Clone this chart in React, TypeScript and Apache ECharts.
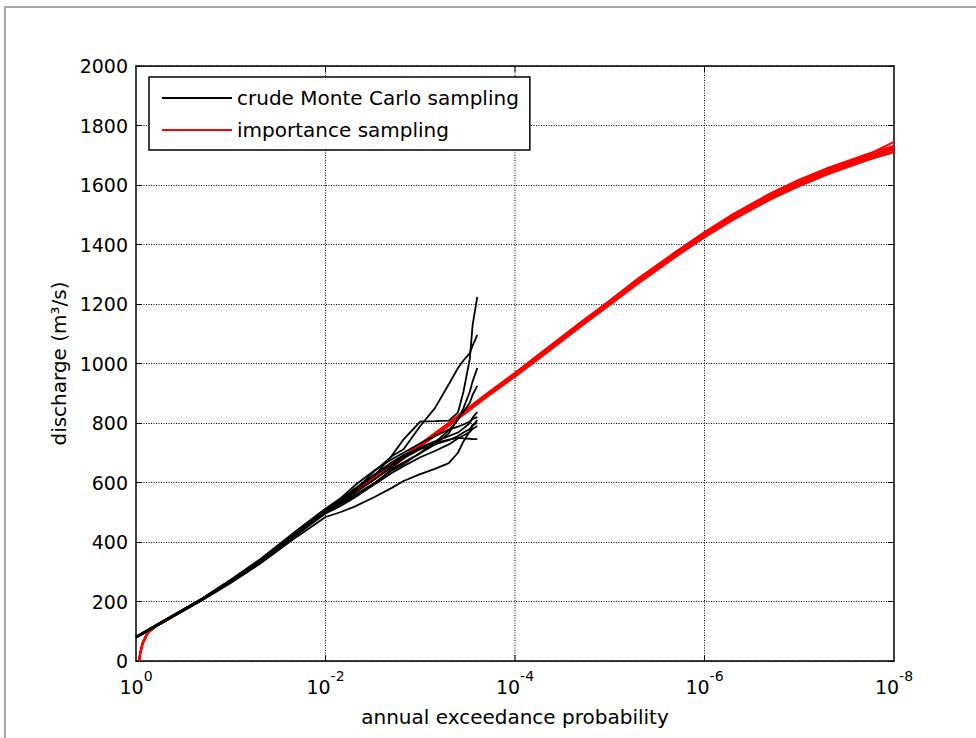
import React, { useEffect, useRef } from "react";
import * as echarts from "echarts";

const FONT = "DejaVu Sans";

// crude Monte Carlo sampling: shared exceedance probabilities
const mcProb = [1, 0.5, 0.2, 0.1, 0.05, 0.02, 0.01, 0.007, 0.005, 0.003, 0.002, 0.0015, 0.001, 0.0007, 0.0005, 0.0004, 0.00035, 0.0003, 0.00028, 0.00025];
const mcA = [80, 136, 210, 272, 338, 436, 510, 542, 575, 625, 690, 745, 805, 806, 808, 835, 905, 1015, 1130, 1224];
const mcB = [78, 134, 206, 268, 333, 428, 503, 533, 570, 640, 688, 712, 790, 850, 930, 985, 1010, 1035, 1060, 1096];
const mcC = [82, 138, 208, 270, 336, 432, 505, 530, 556, 600, 640, 662, 700, 735, 775, 810, 850, 905, 940, 985];
const mcD = [79, 135, 207, 269, 334, 430, 500, 526, 552, 598, 645, 668, 698, 728, 765, 815, 838, 868, 895, 925];
const mcE = [81, 137, 209, 271, 337, 434, 508, 540, 578, 626, 660, 688, 718, 738, 756, 768, 782, 800, 818, 837];
const mcF = [80, 135, 208, 270, 335, 430, 504, 532, 564, 612, 652, 682, 712, 728, 742, 756, 768, 780, 794, 800];
const mcG = [78, 133, 205, 266, 330, 425, 496, 520, 548, 595, 632, 655, 685, 706, 728, 748, 758, 770, 780, 790];
const mcH = [80, 136, 209, 271, 336, 433, 507, 538, 572, 628, 668, 692, 716, 732, 744, 750, 748, 747, 746, 746];
const mcI = [79, 133, 204, 262, 325, 418, 484, 500, 518, 552, 582, 605, 628, 646, 665, 700, 738, 772, 790, 810];
const mcJ = [81, 137, 210, 273, 340, 440, 512, 546, 588, 642, 678, 700, 732, 756, 778, 788, 795, 805, 814, 820];
const mcRuns = [mcA, mcB, mcC, mcD, mcE, mcF, mcG, mcH, mcI, mcJ];

// importance sampling: shared exceedance probabilities
const isProb = [0.93, 0.9, 0.85, 0.75, 0.6, 0.5, 0.3, 0.2, 0.1, 0.05, 0.02, 0.01, 5e-3, 2e-3, 1e-3, 5e-4, 2e-4, 1e-4, 5e-5, 2e-5, 1e-5, 5e-6, 2e-6, 1e-6, 5e-7, 2e-7, 1e-7, 5e-8, 2e-8, 1e-8];
const is1 = [0, 28, 60, 96, 120, 133, 176, 207, 268, 333, 428, 505, 568, 655, 725, 795, 892, 962, 1035, 1132, 1204, 1277, 1367, 1432, 1491, 1561, 1606, 1645, 1690, 1720];
const is2 = [0, 30, 62, 98, 121, 134, 177, 209, 270, 336, 431, 508, 572, 660, 730, 801, 898, 969, 1043, 1140, 1212, 1286, 1376, 1442, 1502, 1573, 1618, 1657, 1702, 1732];
const is3 = [0, 26, 58, 94, 119, 132, 175, 206, 266, 331, 425, 502, 564, 651, 721, 790, 887, 956, 1028, 1125, 1197, 1269, 1359, 1424, 1483, 1552, 1596, 1636, 1681, 1713];
const is4 = [0, 29, 61, 97, 120, 134, 176, 208, 269, 334, 430, 507, 570, 657, 728, 798, 895, 966, 1040, 1136, 1209, 1282, 1372, 1437, 1497, 1567, 1612, 1652, 1698, 1745];
const is5 = [0, 27, 59, 95, 119, 133, 175, 207, 267, 332, 427, 503, 566, 653, 722, 792, 889, 958, 1031, 1128, 1200, 1272, 1362, 1427, 1486, 1555, 1599, 1639, 1683, 1710];
const is6 = [0, 28, 60, 96, 121, 134, 177, 208, 268, 333, 429, 506, 569, 656, 727, 797, 894, 964, 1038, 1135, 1207, 1280, 1370, 1435, 1495, 1565, 1610, 1649, 1694, 1727];
const is7 = [0, 28, 60, 95, 120, 133, 176, 207, 268, 332, 427, 504, 567, 654, 724, 794, 890, 960, 1033, 1130, 1202, 1275, 1364, 1429, 1488, 1558, 1603, 1642, 1687, 1722];
const isRuns = [is1, is2, is3, is4, is5, is6, is7];

// major decades that carry a grid line / tick on the x axis
const gridProb = [1e-2, 1e-4, 1e-6];
const yBottom = 0;
const yTop = 2000;
const tickLen = 20; // in discharge units (about 6 px)

const MC_NAME = "crude Monte Carlo sampling";
const IS_NAME = "importance sampling";

function buildOption() {
  const gridDots = { color: "#000", type: [1, 1.5] as number[], width: 1 };
  const redSeries = isRuns.map((vals) => ({
    type: "line",
    name: IS_NAME,
    symbol: "none",
    z: 3,
    color: "#ff0000",
    lineStyle: { color: "#ff0000", width: 2 },
    data: isProb.map((p, i) => [p, vals[i]]),
  }));
  const blackSeries = mcRuns.map((vals) => ({
    type: "line",
    name: MC_NAME,
    symbol: "none",
    z: 3,
    color: "#000000",
    lineStyle: { color: "#000000", width: 1.8 },
    data: mcProb.map((p, i) => [p, vals[i]]),
  }));
  const gridLineSeries = gridProb.map((p) => ({
    type: "line",
    name: "grid",
    symbol: "none",
    silent: true,
    z: 1,
    lineStyle: gridDots,
    data: [
      [p, yBottom],
      [p, yTop],
    ],
  }));
  const tickLineSeries = gridProb.flatMap((p) => [
    {
      type: "line",
      name: "tick",
      symbol: "none",
      silent: true,
      z: 2,
      lineStyle: { color: "#000", width: 1 },
      data: [
        [p, yBottom],
        [p, yBottom + tickLen],
      ],
    },
    {
      type: "line",
      name: "tick",
      symbol: "none",
      silent: true,
      z: 2,
      lineStyle: { color: "#000", width: 1 },
      data: [
        [p, yTop - tickLen],
        [p, yTop],
      ],
    },
  ]);

  const xFmt = (v: number) => {
    const e = Math.round(Math.log10(v));
    if (e % 2 !== 0) return "";
    return `{b|10}{s|${e}}`;
  };

  return {
    animation: false,
    backgroundColor: "#ffffff",
    textStyle: { fontFamily: FONT },
    grid: { left: 136, top: 66, width: 758, height: 595, containLabel: false },
    graphic: [
      {
        type: "rect",
        shape: { x: 5, y: 7, width: 1200, height: 1200 },
        style: { fill: "none", stroke: "#8a8a8a", lineWidth: 1.5 },
        silent: true,
      },
    ],
    legend: {
      data: [MC_NAME, IS_NAME],
      orient: "vertical",
      left: 149,
      top: 77,
      padding: [11, 11, 10, 13],
      itemGap: 12,
      itemWidth: 70,
      itemHeight: 2,
      icon: "rect",
      borderColor: "#000",
      borderWidth: 1.5,
      backgroundColor: "#fff",
      selectedMode: false,
      textStyle: { fontSize: 20, fontFamily: FONT, color: "#000" },
    },
    xAxis: [
      {
        type: "log",
        logBase: 10,
        min: 1e-8,
        max: 1,
        inverse: true,
        splitNumber: 5,
        position: "bottom",
        name: "annual exceedance probability",
        nameLocation: "middle",
        nameGap: 46,
        nameTextStyle: { fontSize: 20, fontFamily: FONT, color: "#000" },
        axisLine: { show: true, onZero: false, lineStyle: { color: "#000", width: 1.5 } },
        axisTick: { show: false },
        minorTick: { show: false },
        splitLine: { show: false },
        axisLabel: {
          margin: 8,
          formatter: xFmt,
          color: "#000",
          hideOverlap: false,
          rich: {
            b: { fontSize: 19, fontFamily: FONT, color: "#000", verticalAlign: "bottom" },
            s: { fontSize: 14, fontFamily: FONT, color: "#000", verticalAlign: "bottom", padding: [0, 0, 13, 0] },
          },
        },
      },
      {
        type: "log",
        logBase: 10,
        min: 1e-8,
        max: 1,
        inverse: true,
        splitNumber: 5,
        position: "top",
        axisLine: { show: true, onZero: false, lineStyle: { color: "#000", width: 1.5 } },
        axisTick: { show: false },
        splitLine: { show: false },
        axisLabel: { show: false },
      },
    ],
    yAxis: [
      {
        type: "value",
        min: 0,
        max: 2000,
        interval: 200,
        position: "left",
        name: "discharge (m³/s)",
        nameLocation: "middle",
        nameGap: 66,
        nameTextStyle: { fontSize: 20, fontFamily: FONT, color: "#000" },
        axisLine: { show: true, lineStyle: { color: "#000", width: 1.5 } },
        axisTick: { show: true, inside: true, length: 6, lineStyle: { color: "#000" } },
        splitLine: { show: true, lineStyle: gridDots },
        axisLabel: { margin: 8, fontSize: 19, fontFamily: FONT, color: "#000", formatter: (v: number) => String(v) },
      },
      {
        type: "value",
        min: 0,
        max: 2000,
        interval: 200,
        position: "right",
        axisLine: { show: true, lineStyle: { color: "#000", width: 1.5 } },
        axisTick: { show: true, inside: true, length: 6, lineStyle: { color: "#000" } },
        splitLine: { show: false },
        axisLabel: { show: false },
      },
    ],
    series: [...gridLineSeries, ...tickLineSeries, ...redSeries, ...blackSeries],
  };
}

export default function App() {
  const ref = useRef<HTMLDivElement>(null);
  useEffect(() => {
    if (!ref.current) return;
    const chart = echarts.init(ref.current, null, { renderer: "svg" });
    chart.setOption(buildOption() as any);
    return () => {
      chart.dispose();
    };
  }, []);
  return (
    <div
      ref={ref}
      style={{ position: "fixed", left: 0, top: 0, width: 976, height: 738, background: "#fff" }}
    />
  );
}
